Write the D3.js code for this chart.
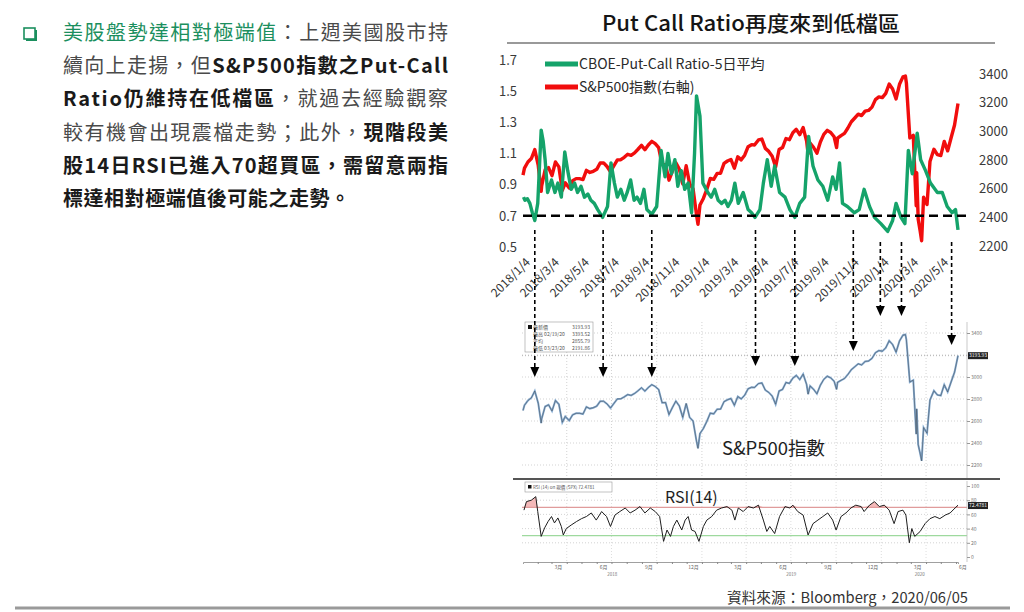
<!DOCTYPE html>
<html>
<head>
<meta charset="utf-8">
<script src="https://d3js.org/d3.v7.min.js"></script>
<style>
body{margin:0;background:#fff;}
text{font-family:"Noto Sans CJK TC","Noto Sans",sans-serif;}
</style>
</head>
<body>
<svg width="1024" height="612" id="slide"></svg>
<script>
// S&P500 index (closes, roughly weekly plus a few turning points)
const spDates = ["2018-01-02","2018-01-05","2018-01-12","2018-01-19","2018-01-26","2018-02-02","2018-02-08","2018-02-09","2018-02-16","2018-02-23",
"2018-03-02","2018-03-09","2018-03-16","2018-03-23","2018-03-29","2018-04-06","2018-04-13","2018-04-20","2018-04-27","2018-05-04",
"2018-05-11","2018-05-18","2018-05-25","2018-06-01","2018-06-08","2018-06-15","2018-06-22","2018-06-29","2018-07-06","2018-07-13",
"2018-07-20","2018-07-27","2018-08-03","2018-08-10","2018-08-17","2018-08-24","2018-08-31","2018-09-07","2018-09-14","2018-09-21",
"2018-09-28","2018-10-05","2018-10-12","2018-10-19","2018-10-26","2018-11-02","2018-11-09","2018-11-16","2018-11-23","2018-11-30",
"2018-12-07","2018-12-14","2018-12-21","2018-12-24","2018-12-28","2019-01-04","2019-01-11","2019-01-18","2019-01-25","2019-02-01",
"2019-02-08","2019-02-15","2019-02-22","2019-03-01","2019-03-08","2019-03-15","2019-03-22","2019-03-29","2019-04-05","2019-04-12",
"2019-04-18","2019-04-26","2019-05-03","2019-05-10","2019-05-17","2019-05-24","2019-05-31","2019-06-07","2019-06-14","2019-06-21",
"2019-06-28","2019-07-05","2019-07-12","2019-07-19","2019-07-26","2019-08-02","2019-08-05","2019-08-09","2019-08-16","2019-08-23",
"2019-08-30","2019-09-06","2019-09-13","2019-09-20","2019-09-27","2019-10-02","2019-10-04","2019-10-11","2019-10-18","2019-10-25",
"2019-11-01","2019-11-08","2019-11-15","2019-11-22","2019-11-29","2019-12-06","2019-12-13","2019-12-20","2019-12-27","2020-01-03",
"2020-01-10","2020-01-17","2020-01-24","2020-01-31","2020-02-07","2020-02-14","2020-02-19","2020-02-21","2020-02-28","2020-03-06",
"2020-03-12","2020-03-13","2020-03-16","2020-03-20","2020-03-23","2020-03-27","2020-04-03","2020-04-09","2020-04-17","2020-04-24",
"2020-05-01","2020-05-08","2020-05-15","2020-05-22","2020-05-29","2020-06-05"];
const spValues = [2695,2743,2786,2810,2873,2762,2581,2620,2732,2747,
2691,2786,2752,2588,2641,2604,2656,2670,2670,2663,
2728,2713,2721,2735,2779,2780,2755,2718,2760,2801,
2802,2819,2840,2833,2850,2875,2902,2872,2905,2930,
2914,2886,2767,2768,2659,2723,2781,2736,2633,2760,
2633,2600,2417,2351,2486,2532,2596,2671,2665,2707,
2708,2776,2793,2804,2743,2822,2801,2834,2893,2907,
2905,2940,2946,2881,2860,2826,2752,2873,2887,2950,
2942,2990,3014,2977,3026,2932,2844,2919,2889,2847,
2926,2979,3007,2992,2962,2887,2952,2970,2986,3023,
3067,3093,3120,3110,3141,3146,3169,3221,3240,3235,
3265,3330,3295,3226,3328,3380,3386,3338,2954,2972,
2481,2711,2386,2305,2237,2541,2489,2790,2875,2837,
2831,2930,2864,2955,3044,3194];

// CBOE put/call ratio, 5-day average
const pcrDates = ["2018-01-03","2018-01-06","2018-01-11","2018-01-16","2018-01-21","2018-01-26","2018-02-01","2018-02-05","2018-02-08","2018-02-12",
"2018-02-16","2018-02-21","2018-03-01","2018-03-08","2018-03-14","2018-03-21","2018-03-28","2018-04-03","2018-04-10","2018-04-17",
"2018-04-23","2018-04-30","2018-05-07","2018-05-14","2018-05-20","2018-05-27","2018-06-03","2018-06-13","2018-06-23","2018-06-30",
"2018-07-07","2018-07-13","2018-07-20","2018-07-27","2018-08-02","2018-08-09","2018-08-16","2018-08-22","2018-08-29","2018-09-05",
"2018-09-11","2018-09-21","2018-10-01","2018-10-10","2018-10-18","2018-10-24","2018-10-31","2018-11-07","2018-11-13","2018-11-20",
"2018-11-27","2018-12-04","2018-12-11","2018-12-17","2018-12-21","2018-12-28","2019-01-03","2019-01-13","2019-01-20","2019-01-27",
"2019-02-03","2019-02-10","2019-02-17","2019-02-23","2019-03-02","2019-03-09","2019-03-16","2019-03-26","2019-04-05","2019-04-12",
"2019-04-19","2019-04-29","2019-05-06","2019-05-14","2019-05-22","2019-05-29","2019-06-08","2019-06-19","2019-06-29","2019-07-09",
"2019-07-19","2019-07-29","2019-08-06","2019-08-15","2019-08-25","2019-09-04","2019-09-14","2019-09-24","2019-10-01","2019-10-08",
"2019-10-14","2019-10-24","2019-11-07","2019-11-17","2019-11-27","2019-12-08","2019-12-18","2019-12-31","2020-01-14","2020-01-24",
"2020-01-31","2020-02-10","2020-02-18","2020-02-25","2020-03-04","2020-03-14","2020-03-21","2020-03-31","2020-04-10","2020-04-24",
"2020-05-04","2020-05-14","2020-05-24","2020-05-31","2020-06-05"];
const pcrValues = [0.82,0.80,0.81,0.78,0.72,0.67,0.78,1.05,1.25,1.18,
1.06,0.85,0.93,0.85,0.91,0.82,1.11,0.99,0.87,0.91,
0.85,0.89,0.82,0.84,0.80,0.78,0.74,0.69,0.76,1.04,
0.91,0.82,0.87,0.80,0.85,0.93,0.80,0.82,0.78,0.87,
0.74,0.71,0.76,1.12,0.95,1.10,0.97,1.06,0.89,0.99,
0.87,0.91,0.72,1.10,1.47,1.34,0.91,0.85,0.82,0.87,
0.80,0.78,0.80,0.76,0.80,0.91,0.78,0.85,0.74,0.72,
0.69,0.74,0.91,1.06,0.89,1.02,0.85,0.82,0.74,0.69,
0.78,0.82,1.21,1.02,0.93,0.89,0.80,0.95,0.87,1.04,
0.78,0.76,0.72,0.74,0.87,0.76,0.69,0.65,0.60,0.67,
0.78,0.69,0.65,1.12,0.97,1.23,1.06,0.99,0.91,0.85,
0.85,0.76,0.72,0.74,0.61];

// RSI(14) of the S&P500
const rsiDates = ["2018-01-04","2018-01-09","2018-01-19","2018-01-28","2018-02-01","2018-02-08","2018-02-15","2018-02-22","2018-03-01","2018-03-07",
"2018-03-14","2018-03-21","2018-03-25","2018-03-31","2018-04-10","2018-04-21","2018-05-01","2018-05-11","2018-05-21","2018-05-31",
"2018-06-11","2018-06-21","2018-06-29","2018-07-08","2018-07-18","2018-07-29","2018-08-08","2018-08-18","2018-08-28","2018-09-07",
"2018-09-18","2018-09-28","2018-10-07","2018-10-15","2018-10-22","2018-10-29","2018-11-04","2018-11-11","2018-11-21","2018-11-28",
"2018-12-04","2018-12-11","2018-12-18","2018-12-26","2019-01-04","2019-01-11","2019-01-21","2019-01-31","2019-02-10","2019-02-21",
"2019-03-03","2019-03-09","2019-03-16","2019-03-26","2019-04-05","2019-04-16","2019-04-26","2019-05-06","2019-05-13","2019-05-19",
"2019-05-29","2019-06-08","2019-06-19","2019-06-29","2019-07-05","2019-07-15","2019-07-26","2019-08-05","2019-08-15","2019-08-25",
"2019-09-04","2019-09-14","2019-09-24","2019-10-01","2019-10-11","2019-10-21","2019-10-31","2019-11-10","2019-11-21","2019-11-27",
"2019-12-08","2019-12-18","2019-12-28","2020-01-07","2020-01-17","2020-01-27","2020-02-04","2020-02-14","2020-02-20","2020-02-27",
"2020-03-03","2020-03-09","2020-03-20","2020-03-30","2020-04-09","2020-04-19","2020-04-29","2020-05-10","2020-05-20","2020-05-30",
"2020-06-05"];
const rsiValues = [66,78,80,85,64,29,41,50,57,48,
55,43,31,40,45,50,54,57,62,52,
64,57,43,59,64,69,62,66,71,62,
69,64,57,22,38,29,43,52,38,52,
57,38,36,22,43,52,57,66,69,71,
66,52,69,64,71,69,73,52,36,43,
33,57,71,69,73,64,59,31,47,52,
57,62,52,38,57,62,69,73,71,64,
73,78,71,73,66,47,64,66,59,20,
40,29,36,47,54,57,54,59,62,69,
73];

const leftTicks = [0.5,0.7,0.9,1.1,1.3,1.5,1.7];
const rightTicks = [2200,2400,2600,2800,3000,3200,3400];
const dateLabels = ["2018/1/4","2018/3/4","2018/5/4","2018/7/4","2018/9/4","2018/11/4","2019/1/4","2019/3/4","2019/5/4","2019/7/4","2019/9/4","2019/11/4","2020/1/4","2020/3/4","2020/5/4"];
const rsiTicks = [0,20,40,60,80,100];
const arrowDates = ["2018-01-26","2018-06-14","2018-09-21","2019-04-20","2019-07-09","2019-11-05","2019-12-30","2020-02-11","2020-05-23"];
const arrowTop = [230,230,230,230,230,230,242,242,242];
const arrowTip = [377,377,377,366,366,351,316,316,345];
const lastPrice = 3193.93, lastRsi = 72.4781;

const svg = d3.select("#slide");
const parse = d3.timeParse("%Y-%m-%d");
const parseSlash = d3.timeParse("%Y/%m/%d");
const sp = spDates.map((d,i)=>({date:parse(d), v:spValues[i]}));
const pcr = pcrDates.map((d,i)=>({date:parse(d), v:pcrValues[i]}));
const rsi = rsiDates.map((d,i)=>({date:parse(d), v:rsiValues[i]}));

const x = d3.scaleTime().domain([parse("2018-01-02"), parse("2020-06-05")]).range([523, 958]);

// ---------- left text block ----------
const green = "#1b8f5e";
svg.append("rect").attr("x",26).attr("y",30).attr("width",11).attr("height",11).attr("fill",green);
svg.append("rect").attr("x",24).attr("y",28).attr("width",11).attr("height",11).attr("fill","#fff").attr("stroke",green).attr("stroke-width",1.6);

const textLines = [
  [["美股盤勢達相對極端值","h"],["：上週美國股市持","n"]],
  [["續向上走揚，但","n"],["S&P500指數之Put-Call","b"]],
  [["Ratio仍維持在低檔區","b"],["，就過去經驗觀察","n"]],
  [["較有機會出現震檔走勢；此外，","n"],["現階段美","b"]],
  [["股14日RSI已進入70超買區，需留意兩指","b"]],
  [["標達相對極端值後可能之走勢。","b"]]
];
const lineLen = [385,385,385,385,385,287];
textLines.forEach((parts,i)=>{
  const t = svg.append("text").attr("x",63).attr("y",40 + i*33.2)
    .attr("font-size",20).attr("textLength",lineLen[i]).attr("lengthAdjust","spacing");
  parts.forEach(p=>{
    t.append("tspan").text(p[0])
      .attr("fill", p[1]==="h" ? green : p[1]==="b" ? "#1a1a1a" : "#4a4a4a")
      .attr("font-weight", p[1]==="b" ? 700 : 400);
  });
});

// ---------- title ----------
svg.append("text").attr("x",602).attr("y",31).attr("font-size",21).attr("font-weight",500).attr("fill","#151515")
  .attr("textLength",298).attr("lengthAdjust","spacingAndGlyphs").text("Put Call Ratio再度來到低檔區");
svg.append("line").attr("x1",507).attr("x2",995).attr("y1",43).attr("y2",43).attr("stroke","#777").attr("stroke-width",1.5);

// ---------- top dual axis chart ----------
const yL = d3.scaleLinear().domain([0.5,1.7]).range([247,60]);
const yR = d3.scaleLinear().domain([2200,3400]).range([246,74]);

const topG = svg.append("g");
const axL = topG.append("g").attr("transform","translate(517,0)")
  .call(d3.axisLeft(yL).tickValues(leftTicks).tickFormat(d3.format(".1f")).tickSize(0).tickPadding(0));
const axR = topG.append("g").attr("transform","translate(979,0)")
  .call(d3.axisRight(yR).tickValues(rightTicks).tickFormat(d3.format("d")).tickSize(0).tickPadding(0));
[axL,axR].forEach(a=>{
  a.select(".domain").remove();
  a.selectAll("text").attr("font-size",13).attr("fill","#3a3a3a").attr("font-family","'Noto Sans CJK TC',sans-serif");
});

topG.append("path").datum(sp).attr("fill","none").attr("stroke","#f10d0d").attr("stroke-width",3.4)
  .attr("stroke-linejoin","round").attr("d", d3.line().x(d=>x(d.date)).y(d=>yR(d.v)));
topG.append("path").datum(pcr).attr("fill","none").attr("stroke","#15a36a").attr("stroke-width",3.4)
  .attr("stroke-linejoin","round").attr("d", d3.line().x(d=>x(d.date)).y(d=>yL(d.v)));

topG.append("line").attr("x1",523).attr("x2",968).attr("y1",yL(0.7)).attr("y2",yL(0.7))
  .attr("stroke","#000").attr("stroke-width",2.5).attr("stroke-dasharray","9,5");

// legend
const legend = [["CBOE-Put-Call Ratio-5日平均","#15a36a",64],["S&P500指數(右軸)","#f10d0d",87]];
legend.forEach(l=>{
  topG.append("line").attr("x1",545).attr("x2",578).attr("y1",l[2]).attr("y2",l[2]).attr("stroke",l[1]).attr("stroke-width",5);
  topG.append("text").attr("x",579).attr("y",l[2]+5).attr("font-size",14).attr("fill","#2a2a2a").text(l[0]);
});

// rotated date labels
dateLabels.forEach(s=>{
  const px = x(parseSlash(s));
  topG.append("text").attr("transform",`translate(${px+7},${263}) rotate(-45)`)
    .attr("text-anchor","end").attr("font-size",12).attr("fill","#333").text(s);
});

// ---------- Bloomberg style S&P500 panel ----------
const yB = d3.scaleLinear().domain([2200,3400]).range([465,333]);
const bb = svg.append("g");
const quarters = d3.timeMonth.every(3).range(parse("2018-03-15"), parse("2020-06-05"));
bb.selectAll("line.vg").data(quarters).join("line").attr("class","vg")
  .attr("x1",d=>x(d)).attr("x2",d=>x(d)).attr("y1",322).attr("y2",478)
  .attr("stroke","#c8c8c8").attr("stroke-width",0.8).attr("stroke-dasharray","1,2");
bb.selectAll("line.hg").data(rightTicks).join("line").attr("class","hg")
  .attr("x1",522).attr("x2",967).attr("y1",d=>yB(d)).attr("y2",d=>yB(d))
  .attr("stroke","#c8c8c8").attr("stroke-width",0.8).attr("stroke-dasharray","1,2");
bb.append("line").attr("x1",967).attr("x2",967).attr("y1",322).attr("y2",478).attr("stroke","#bbb").attr("stroke-width",0.8);
// the price tag hides the tick label it would cover
const axB = bb.append("g").attr("transform","translate(967,0)")
  .call(d3.axisRight(yB).tickValues(rightTicks.filter(v=>Math.abs(v-lastPrice)>40)).tickFormat(d3.format("d")).tickSize(3).tickPadding(1));
axB.select(".domain").remove();
axB.selectAll("line").attr("stroke","#999");
axB.selectAll("text").attr("font-size",5).attr("fill","#777");

bb.append("line").attr("x1",522).attr("x2",967).attr("y1",yB(lastPrice)).attr("y2",yB(lastPrice))
  .attr("stroke","#aaa").attr("stroke-width",0.8).attr("stroke-dasharray","1,2");
bb.append("rect").attr("x",968).attr("y",yB(lastPrice)-3.5).attr("width",20).attr("height",7).attr("fill","#222");
bb.append("text").attr("x",978).attr("y",yB(lastPrice)+1.8).attr("text-anchor","middle").attr("font-size",5).attr("fill","#fff").text(lastPrice.toFixed(2));

const spLine = d3.line().x(d=>x(d.date)).y(d=>yB(d.v));
bb.append("path").datum(sp).attr("fill","none").attr("stroke","#86acd2").attr("stroke-width",2).attr("d",spLine);
bb.append("path").datum(sp).attr("fill","none").attr("stroke","#333").attr("stroke-width",0.6).attr("opacity",0.7).attr("d",spLine);

// Bloomberg legend box
bb.append("rect").attr("x",525).attr("y",322).attr("width",68).attr("height",30).attr("fill","#fff").attr("stroke","#999").attr("stroke-width",0.6);
const bbRows = [["最新價","3193.93"],["最高 02/19/20","3393.52"],["平均","2855.79"],["最低 03/23/20","2191.86"]];
bbRows.forEach((r,i)=>{
  bb.append("text").attr("x",533).attr("y",329+i*7).attr("font-size",5).attr("fill","#555").text(r[0]);
  bb.append("text").attr("x",590).attr("y",329+i*7).attr("text-anchor","end").attr("font-size",5).attr("fill","#555").text(r[1]);
});
bb.append("rect").attr("x",528).attr("y",325).attr("width",4).attr("height",4).attr("fill","#111");

bb.append("text").attr("x",722).attr("y",455).attr("font-size",18).attr("fill","#1e1e1e")
  .attr("textLength",103).attr("lengthAdjust","spacingAndGlyphs").text("S&P500指數");

bb.append("line").attr("x1",513).attr("x2",1000).attr("y1",479).attr("y2",479).attr("stroke","#555").attr("stroke-width",2);

// ---------- RSI panel ----------
const yS = d3.scaleLinear().domain([0,100]).range([557,486]);
const rp = svg.append("g");
rp.selectAll("line.rg").data([20,40,60,80]).join("line").attr("class","rg")
  .attr("x1",522).attr("x2",967).attr("y1",d=>yS(d)).attr("y2",d=>yS(d))
  .attr("stroke","#c8c8c8").attr("stroke-width",0.8).attr("stroke-dasharray","1,2");
rp.selectAll("line.rv").data(quarters).join("line").attr("class","rv")
  .attr("x1",d=>x(d)).attr("x2",d=>x(d)).attr("y1",482).attr("y2",561)
  .attr("stroke","#d4d4d4").attr("stroke-width",0.8).attr("stroke-dasharray","1,2");
rp.append("path").datum(rsi).attr("fill","#f4b9b9")
  .attr("d", d3.area().x(d=>x(d.date)).y0(yS(70)).y1(d=>yS(Math.max(d.v,70))));
rp.append("line").attr("x1",522).attr("x2",967).attr("y1",yS(70)).attr("y2",yS(70)).attr("stroke","#e09b9b").attr("stroke-width",1.2);
rp.append("line").attr("x1",522).attr("x2",967).attr("y1",yS(30)).attr("y2",yS(30)).attr("stroke","#9ed99e").attr("stroke-width",1.2);
rp.append("path").datum(rsi).attr("fill","none").attr("stroke","#1e1e1e").attr("stroke-width",1)
  .attr("d", d3.line().x(d=>x(d.date)).y(d=>yS(d.v)));

rp.append("line").attr("x1",967).attr("x2",967).attr("y1",481).attr("y2",562).attr("stroke","#bbb").attr("stroke-width",0.8);
const axS = rp.append("g").attr("transform","translate(967,0)")
  .call(d3.axisRight(yS).tickValues(rsiTicks).tickSize(3).tickPadding(1));
axS.select(".domain").remove();
axS.selectAll("line").attr("stroke","#999");
axS.selectAll("text").attr("font-size",5).attr("fill","#777");
rp.append("rect").attr("x",968).attr("y",yS(lastRsi)-3.5).attr("width",20).attr("height",7).attr("fill","#222");
rp.append("text").attr("x",978).attr("y",yS(lastRsi)+1.8).attr("text-anchor","middle").attr("font-size",5).attr("fill","#fff").text(lastRsi.toFixed(4));

rp.append("rect").attr("x",525).attr("y",482).attr("width",87).attr("height",10).attr("fill","#fff").attr("stroke","#999").attr("stroke-width",0.6);
rp.append("rect").attr("x",528).attr("y",485).attr("width",3.5).attr("height",3.5).attr("fill","#111");
rp.append("text").attr("x",533).attr("y",489).attr("font-size",4.5).attr("fill","#555").text("RSI (14)  on 現價 (SPX)  72.4781");
rp.append("text").attr("x",665).attr("y",503).attr("font-size",16).attr("fill","#1e1e1e").text("RSI(14)");

// time axis at the bottom of RSI panel
const axT = rp.append("g").attr("transform","translate(0,562)")
  .call(d3.axisBottom(x).ticks(d3.timeMonth.every(1)).tickSize(2).tickFormat(""));
axT.select(".domain").attr("stroke","#888").attr("stroke-width",0.8);
axT.selectAll("line").attr("stroke","#888");
const qLabels = d3.timeMonth.range(parse("2018-02-01"), parse("2020-06-05")).filter(d=>d.getMonth()%3===2);
rp.selectAll("text.ml").data(qLabels).join("text").attr("class","ml")
  .attr("x",d=>x(d3.timeDay.offset(d,14))).attr("y",569).attr("text-anchor","middle")
  .attr("font-size",5).attr("fill","#666").text(d=>(d.getMonth()+1)+"月");
const years = [["2018","2018-01-02","2018-12-31"],["2019","2019-01-01","2019-12-31"],["2020","2020-01-01","2020-06-05"]];
years.forEach(yv=>{
  rp.append("text").attr("x",(x(parse(yv[1]))+x(parse(yv[2])))/2).attr("y",576).attr("text-anchor","middle")
    .attr("font-size",4.5).attr("fill","#777").text(yv[0]);
});

// ---------- arrows ----------
const ar = svg.append("g");
arrowDates.forEach((d,i)=>{
  const ax = x(parse(d));
  ar.append("line").attr("x1",ax).attr("x2",ax).attr("y1",arrowTop[i]).attr("y2",arrowTip[i]-8)
    .attr("stroke","#000").attr("stroke-width",1.6).attr("stroke-dasharray","4,3");
  ar.append("path").attr("d",`M${ax-4.5},${arrowTip[i]-10}L${ax+4.5},${arrowTip[i]-10}L${ax},${arrowTip[i]}Z`).attr("fill","#000");
});

// ---------- source + footer rule ----------
svg.append("text").attr("x",727).attr("y",603).attr("font-size",15).attr("fill","#333")
  .attr("textLength",241).attr("lengthAdjust","spacingAndGlyphs").text("資料來源：Bloomberg，2020/06/05");
svg.append("line").attr("x1",15).attr("x2",1010).attr("y1",608).attr("y2",608).attr("stroke","#9a9a9a").attr("stroke-width",3);
</script>
</body>
</html>
